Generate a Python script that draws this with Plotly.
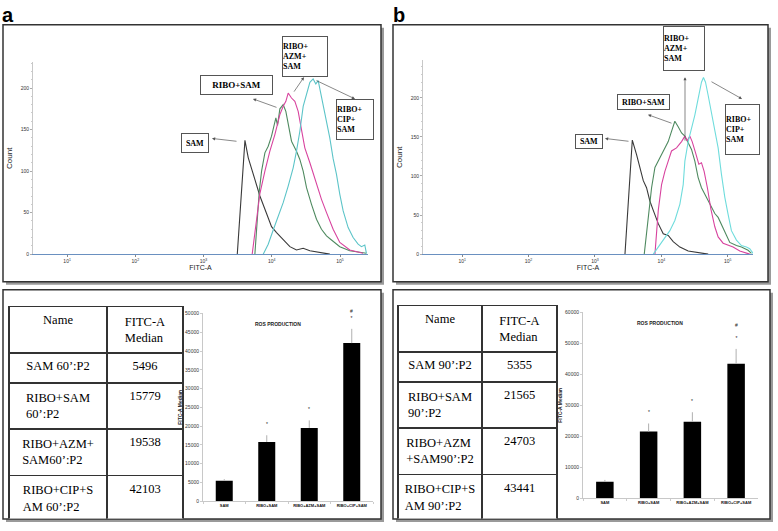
import plotly.graph_objects as go

W, H = 778, 531


def px(x):
    return x / W


def py(y):
    return 1 - y / H


# ---- histogram data, panel a (60 min) ----
sam_a_x = [3120, 3410, 3730, 4040, 4520, 5340, 6690, 8380, 9910, 11740, 14690, 18400, 23020, 28840, 36140, 50580, 70790]
sam_a_y = [0, 50, 105, 137, 116, 96, 70, 49, 33, 26, 17, 9, 5, 7, 4, 2, 0]
ribo_a_x = [5650, 6110, 6540, 7080, 7920, 8860, 9910, 11470, 12140, 13130, 14690, 16070, 17380, 19450, 23020, 25760,
            28840, 32280, 38190, 45190, 53460, 63390, 74990, 99310, 139000, 194980, 243780]
ribo_a_y = [0, 40, 75, 100, 122, 130, 142, 164, 155, 175, 180, 172, 155, 136, 124, 114, 100, 80, 60, 42, 30, 22, 17, 9,
            4, 2, 1]
azm_a_x = [5160, 5650, 6110, 6690, 7920, 9370, 11090, 13130, 14690, 16070, 17380, 19450, 21770, 24360, 27240, 30480,
           36140, 42760, 47860, 53460, 63390, 79250, 99310, 139000, 217770]
azm_a_y = [0, 25, 50, 73, 100, 124, 144, 168, 178, 184, 194, 188, 184, 172, 150, 128, 110, 90, 78, 66, 50, 30, 14, 5, 1]
cip_a_x = [7490, 8860, 10490, 14690, 17380, 20570, 23020, 25760, 28840, 32280, 36140, 40360, 44160, 47860, 53460, 59840,
           70790, 79250, 88720, 99310, 111170, 131500, 155600, 184100, 206060, 230680, 243780]
cip_a_y = [0, 12, 29, 62, 82, 104, 124, 148, 178, 194, 207, 211, 205, 209, 190, 170, 140, 115, 96, 72, 52, 32, 20, 12,
           9, 11, 1]

# ---- histogram data, panel b (90 min) ----
sam_b_x = [2830, 3110, 3370, 3650, 4240, 4760, 5340, 5980, 6710, 7550, 8980, 10670, 12680, 15070, 19010, 25350, 35810,
           50700]
sam_b_y = [0, 60, 110, 146, 127, 111, 94, 85, 68, 56, 39, 26, 24, 16, 9, 4, 2, 0]
ribo_b_x = [5520, 6340, 7120, 8000, 9510, 11300, 12680, 14220, 15960, 17910, 20140, 22590, 25350, 28440, 31920, 35810,
            40180, 45080, 50700, 56890, 63830, 71620, 80350, 90160, 107200, 135100, 160600, 202300, 227000]
ribo_b_y = [0, 47, 85, 111, 123, 134, 144, 157, 170, 163, 155, 151, 142, 134, 119, 98, 85, 77, 68, 62, 52, 47, 38, 30,
            15, 11, 9, 5, 1]
azm_b_x = [8000, 8980, 10070, 11300, 12680, 14220, 16900, 20140, 22590, 24490, 26850, 29110, 32660, 36640, 40180, 44060,
           49550, 55590, 63830, 71620, 85110, 101160, 120200, 151700, 180300, 214300]
azm_b_y = [0, 56, 89, 106, 119, 132, 136, 144, 151, 145, 151, 144, 130, 115, 117, 106, 84, 58, 35, 22, 14, 12, 9, 4, 2,
           0]
cip_b_x = [7550, 8980, 11300, 13430, 15960, 19010, 21330, 22590, 25350, 28440, 31920, 35810, 40180, 43050, 46220, 50700,
           56890, 63830, 71620, 80350, 90160, 101160, 113500, 135100, 160600, 190900, 214300, 240400]
cip_b_y = [0, 9, 20, 30, 43, 64, 89, 119, 144, 161, 178, 199, 220, 226, 220, 203, 182, 161, 136, 102, 73, 51, 30, 18,
           11, 9, 7, 1]

# ---- bar / table data ----
bar_labels = ["SAM", "RIBO+SAM", "RIBO+AZM+SAM", "RIBO+CIP+SAM"]
median_a = [5496, 15779, 19538, 42103]
err_a = [400, 1800, 2000, 3800]
median_b = [5355, 21565, 24703, 43441]
err_b = [600, 2600, 3100, 4800]
stars_a = ["", "*", "*", "#<br>*"]
stars_b = ["", "*", "*", "#<br><br>*"]
names_a = ["SAM 60’:P2", "RIBO+SAM<br>60’:P2", "RIBO+AZM+<br>SAM60’:P2", "RIBO+CIP+S<br>AM 60’:P2"]
names_b = ["SAM 90’:P2", "RIBO+SAM<br>90’:P2", "RIBO+AZM<br>+SAM90’:P2", "RIBO+CIP+S<br>AM 90’:P2"]
decades = [10, 100, 1000, 10000, 100000]
decade_text = ["10<sup>1</sup>", "10<sup>2</sup>", "10<sup>3</sup>", "10<sup>4</sup>", "10<sup>5</sup>"]

col_sam = "#3a3a3a"
col_ribo = "#4f8a60"
col_azm = "#d8449f"
col_cip = "#5cc4c8"

fig = go.Figure()

hist = [
    ("x", "y", sam_a_x, sam_a_y, col_sam), ("x", "y", ribo_a_x, ribo_a_y, col_ribo),
    ("x", "y", azm_a_x, azm_a_y, col_azm), ("x", "y", cip_a_x, cip_a_y, col_cip),
    ("x2", "y2", sam_b_x, sam_b_y, col_sam), ("x2", "y2", ribo_b_x, ribo_b_y, col_ribo),
    ("x2", "y2", azm_b_x, azm_b_y, col_azm), ("x2", "y2", cip_b_x, cip_b_y, "#6fdcdc"),
]
for xa, ya, xs, ys, c in hist:
    fig.add_trace(go.Scatter(x=xs, y=ys, xaxis=xa, yaxis=ya, mode="lines",
                             line=dict(color=c, width=1.1), showlegend=False, hoverinfo="skip"))

for xa, ya, vals, errs in [("x3", "y3", median_a, err_a), ("x4", "y4", median_b, err_b)]:
    fig.add_trace(go.Bar(x=bar_labels, y=vals, xaxis=xa, yaxis=ya, width=0.4,
                         marker=dict(color="black", line=dict(width=0)),
                         error_y=dict(type="data", array=errs, arrayminus=[0] * 4, symmetric=False,
                                      color="#b0b0b0", thickness=1, width=0),
                         showlegend=False))

# tables
cell_font = dict(family="Liberation Serif", size=12.5, color="black")
for dom_x, dom_y, names, vals, widths in [
    ([px(9), px(183)], [py(522), py(307)], names_a, median_a, [98, 76]),
    ([px(398), px(557)], [py(522), py(306)], names_b, median_b, [84, 75]),
]:
    fig.add_trace(go.Table(
        domain=dict(x=dom_x, y=dom_y), columnwidth=widths,
        header=dict(values=["Name", "FITC-A<br>Median"], height=30, align="center",
                    fill_color="white", line=dict(color="#333", width=1.5), font=cell_font),
        cells=dict(values=[names, [str(v) for v in vals]], height=30, align="center",
                   fill_color="white", line=dict(color="#333", width=1.5), font=cell_font),
    ))

tick_small = dict(family="Liberation Sans", size=5, color="#333")
hist_x = dict(type="log", tickvals=decades, ticktext=decade_text, showline=True,
              linecolor="#6a90c0", linewidth=1, ticks="outside", ticklen=2, tickcolor="#888",
              tickfont=dict(family="Liberation Sans", size=5, color="#333"), showgrid=False, zeroline=False,
              title=dict(text="FITC-A", font=dict(family="Liberation Sans", size=7, color="#222"), standoff=1))
hist_y = dict(showline=True, linecolor="#c8c8c8", linewidth=1, ticks="outside", ticklen=2, tickcolor="#aaa",
              tickfont=tick_small, showgrid=False, zeroline=False, dtick=50,
              minor=dict(ticks="outside", ticklen=1, tickcolor="#ccc", dtick=10),
              title=dict(text="Count", font=dict(family="Liberation Sans", size=8, color="#222"), standoff=6))
bar_x = dict(type="category", showline=True, linecolor="#c8c8c8", linewidth=1, ticks="outside", ticklen=2,
             tickcolor="#ccc", tickson="boundaries", tickangle=0,
             tickfont=dict(family="Liberation Sans", size=4, color="#111", weight="bold"), showgrid=False,
             zeroline=False, range=[-0.5, 3.5])
bar_y = dict(showline=True, linecolor="#c8c8c8", linewidth=1, ticks="outside", ticklen=2, tickcolor="#ccc",
             tickfont=tick_small, tickformat="d", showgrid=False, zeroline=False,
             title=dict(text="<b>FITC-A Median</b>", font=dict(family="Liberation Sans", size=5, color="#222"),
                        standoff=2))

fig.update_layout(
    width=W, height=H, margin=dict(l=0, r=0, t=0, b=0), autosize=False,
    paper_bgcolor="white", plot_bgcolor="rgba(0,0,0,0)", bargap=0.6,
    xaxis=dict(hist_x, domain=[px(33), px(368)], range=[0.5, 5.41], anchor="y"),
    yaxis=dict(hist_y, domain=[py(254), py(60)], range=[0, 231], anchor="x"),
    xaxis2=dict(hist_x, domain=[px(423), px(753)], range=[0.41, 5.38], anchor="y2"),
    yaxis2=dict(hist_y, domain=[py(254), py(58)], range=[0, 248], anchor="x2"),
    xaxis3=dict(bar_x, domain=[px(203), px(373)], anchor="y3"),
    yaxis3=dict(bar_y, domain=[py(504), py(314)], range=[0, 50000], dtick=5000, anchor="x3"),
    xaxis4=dict(bar_x, domain=[px(583), px(758)], anchor="y4"),
    yaxis4=dict(bar_y, domain=[py(501), py(313)], range=[0, 60000], dtick=10000, anchor="x4"),
)

# panel frames with drop shadow
shapes = []
for x0, y0, x1, y1 in [(3, 22, 381, 282), (393, 22, 768, 282), (3, 290, 381, 522), (393, 290, 770, 522)]:
    shapes.append(dict(type="rect", xref="paper", yref="paper", x0=px(x0 + 3), x1=px(x1 + 3), y0=py(y1 + 3),
                       y1=py(y0 + 3), fillcolor="#9a9a9a", line=dict(width=0), layer="below"))
    shapes.append(dict(type="rect", xref="paper", yref="paper", x0=px(x0), x1=px(x1), y0=py(y1), y1=py(y0),
                       fillcolor="white", line=dict(color="#333", width=1.5), layer="below"))
fig.update_layout(shapes=shapes)

ann = []
for lab, lx in [("a", 8), ("b", 399)]:
    ann.append(dict(text="<b>" + lab + "</b>", x=px(lx), y=py(-1), xref="paper", yref="paper", xanchor="center",
                    yanchor="top", showarrow=False, font=dict(family="Liberation Sans", size=20, color="black")))

box_font = dict(family="Liberation Serif", size=8, color="black")
# (label, left, top, width, height, font size)
boxes = [
    ("SAM", 181, 131, 28, 20, 8), ("RIBO+SAM", 200, 73, 73, 20, 9),
    ("RIBO+<br>AZM+<br>SAM", 282, 33, 46, 41, 8), ("RIBO+<br>CIP+<br>SAM", 336, 97, 38, 41, 8),
    ("SAM", 575, 133, 28, 15, 8), ("RIBO+SAM", 617, 92, 53, 16, 8),
    ("RIBO+<br>AZM+<br>SAM", 663, 23, 42, 45, 8), ("RIBO+<br>CIP+<br>SAM", 725, 102, 35, 51, 8),
]
for t, l, tp, w, h, fs in boxes:
    ann.append(dict(text="<b>" + t + "</b>", x=px(l), y=py(tp), xref="paper", yref="paper", xanchor="left",
                    yanchor="top", showarrow=False, width=w - 2, height=h - 2,
                    align="left" if "<br>" in t else "center",
                    valign="middle", bordercolor="#555", borderwidth=1, borderpad=0, bgcolor="white",
                    font=dict(box_font, size=fs)))

# arrows: head at box, tail at curve
arrows = [
    (212, 137, 238, 140), (253, 97, 278, 106), (304, 75, 293, 91), (355, 97, 315, 78),
    (605, 137, 630, 140), (648, 113, 673, 122), (685, 75, 685, 140), (742, 97, 710, 79),
]
for hx, hy, tx, ty in arrows:
    ann.append(dict(text="", x=px(hx), y=py(hy), xref="paper", yref="paper", ax=tx - hx, ay=ty - hy,
                    showarrow=True, arrowhead=2, arrowsize=0.9, arrowwidth=0.7, arrowcolor="#555"))

for xa, ya, vals, errs, stars in [("x3", "y3", median_a, err_a, stars_a), ("x4", "y4", median_b, err_b, stars_b)]:
    for lab, v, e, s in zip(bar_labels, vals, errs, stars):
        if s:
            ann.append(dict(text=s, x=lab, y=v + e, xref=xa, yref=ya, yanchor="bottom", yshift=6,
                            showarrow=False, font=dict(family="Liberation Sans", size=5, color="#222")))
    ann.append(dict(text="<b>ROS PRODUCTION</b>", x=0.44, y=0.97, xref=xa + " domain", yref=ya + " domain",
                    showarrow=False, font=dict(family="Liberation Sans", size=5, color="#222")))

fig.update_layout(annotations=ann)

# the page body has a default 8px margin; remove it so the figure sits at the window origin
fig.write_html("out.html", config={"displayModeBar": False},
               post_script="document.body.style.margin='0';")
